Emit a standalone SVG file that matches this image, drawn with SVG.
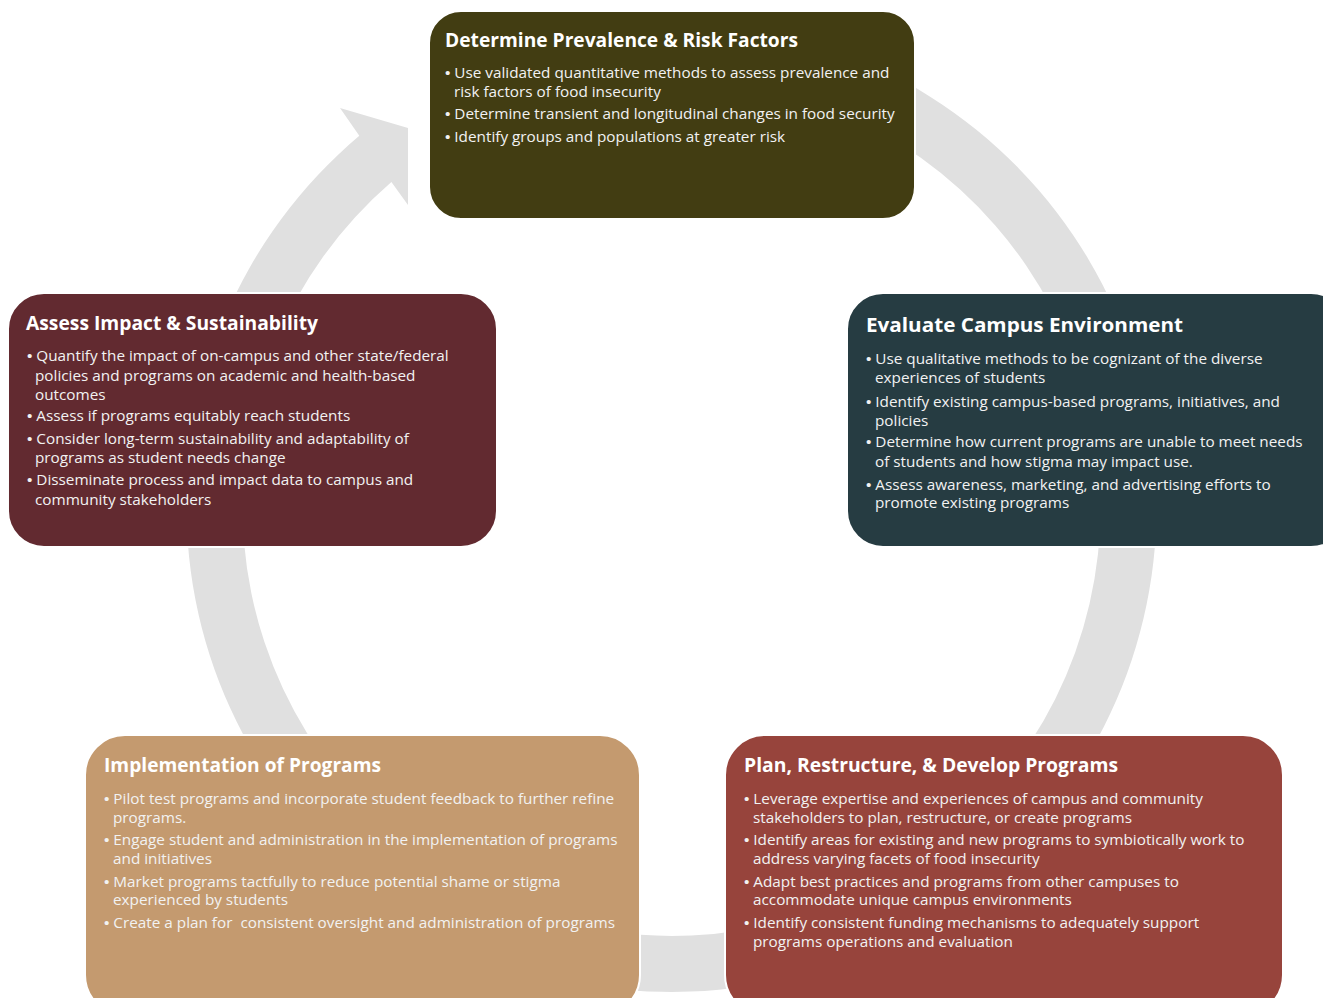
<svg xmlns="http://www.w3.org/2000/svg" width="1323" height="998" viewBox="0 0 1323 998">
<style>
.box{stroke:#ffffff;stroke-width:2}
.t{font-family:"Open Sans","Liberation Sans",Arial,sans-serif;font-weight:bold;font-size:19px;fill:#ffffff}
.b{font-family:"Open Sans","Liberation Sans",Arial,sans-serif;font-size:15.3px;fill:#f2f2f2}
.d{font-family:"Liberation Sans",Arial,sans-serif;font-size:15.3px}
</style>
<rect width="1323" height="998" fill="#ffffff"/>
<g id="connectors">
<path d="M359.3,135.8 A485,485 0 1 0 629.2,23.8 L634.1,79.6 A429,429 0 1 1 391.4,182.1 L408,205 L408,128 L340,108 Z" fill="#e0e0e0"/>
</g>
<g id="node-prevalence">
<rect class="box" x="429" y="11" width="486" height="208" rx="32" fill="#423d12"/>
<text class="t" x="445" y="47" textLength="353" lengthAdjust="spacingAndGlyphs">Determine Prevalence &amp; Risk Factors</text>
<text class="b" x="445" y="78"><tspan class="d">•</tspan> Use validated quantitative methods to assess prevalence and</text>
<text class="b" x="454" y="97">risk factors of food insecurity</text>
<text class="b" x="445" y="119"><tspan class="d">•</tspan> Determine transient and longitudinal changes in food security</text>
<text class="b" x="445" y="142"><tspan class="d">•</tspan> Identify groups and populations at greater risk</text>
</g>
<g id="node-evaluate">
<rect class="box" x="847" y="293" width="500" height="254" rx="36" fill="#263c42"/>
<text class="t" x="866" y="332" textLength="317" lengthAdjust="spacingAndGlyphs">Evaluate Campus Environment</text>
<text class="b" x="866" y="364"><tspan class="d">•</tspan> Use qualitative methods to be cognizant of the diverse</text>
<text class="b" x="875" y="383">experiences of students</text>
<text class="b" x="866" y="407"><tspan class="d">•</tspan> Identify existing campus-based programs, initiatives, and</text>
<text class="b" x="875" y="426">policies</text>
<text class="b" x="866" y="447"><tspan class="d">•</tspan> Determine how current programs are unable to meet needs</text>
<text class="b" x="875" y="467">of students and how stigma may impact use.</text>
<text class="b" x="866" y="490"><tspan class="d">•</tspan> Assess awareness, marketing, and advertising efforts to</text>
<text class="b" x="875" y="508">promote existing programs</text>
</g>
<g id="node-plan">
<rect class="box" x="725" y="735" width="558" height="280" rx="40" fill="#97443c"/>
<text class="t" x="744" y="772" textLength="374" lengthAdjust="spacingAndGlyphs">Plan, Restructure, &amp; Develop Programs</text>
<text class="b" x="744" y="804"><tspan class="d">•</tspan> Leverage expertise and experiences of campus and community</text>
<text class="b" x="753" y="823">stakeholders to plan, restructure, or create programs</text>
<text class="b" x="744" y="845"><tspan class="d">•</tspan> Identify areas for existing and new programs to symbiotically work to</text>
<text class="b" x="753" y="864">address varying facets of food insecurity</text>
<text class="b" x="744" y="887"><tspan class="d">•</tspan> Adapt best practices and programs from other campuses to</text>
<text class="b" x="753" y="905">accommodate unique campus environments</text>
<text class="b" x="744" y="928"><tspan class="d">•</tspan> Identify consistent funding mechanisms to adequately support</text>
<text class="b" x="753" y="947">programs operations and evaluation</text>
</g>
<g id="node-implementation">
<rect class="box" x="85" y="735" width="555" height="280" rx="40" fill="#c49a6f"/>
<text class="t" x="104" y="772" textLength="277" lengthAdjust="spacingAndGlyphs">Implementation of Programs</text>
<text class="b" x="104" y="804"><tspan class="d">•</tspan> Pilot test programs and incorporate student feedback to further refine</text>
<text class="b" x="113" y="823">programs.</text>
<text class="b" x="104" y="845"><tspan class="d">•</tspan> Engage student and administration in the implementation of programs</text>
<text class="b" x="113" y="864">and initiatives</text>
<text class="b" x="104" y="887"><tspan class="d">•</tspan> Market programs tactfully to reduce potential shame or stigma</text>
<text class="b" x="113" y="905">experienced by students</text>
<text class="b" x="104" y="928" xml:space="preserve"><tspan class="d">•</tspan> Create a plan for  consistent oversight and administration of programs</text>
</g>
<g id="node-assess">
<rect class="box" x="8" y="293" width="489" height="254" rx="36" fill="#622a30"/>
<text class="t" x="26" y="330" textLength="292" lengthAdjust="spacingAndGlyphs">Assess Impact &amp; Sustainability</text>
<text class="b" x="27" y="361"><tspan class="d">•</tspan> Quantify the impact of on-campus and other state/federal</text>
<text class="b" x="35" y="381">policies and programs on academic and health-based</text>
<text class="b" x="35" y="400">outcomes</text>
<text class="b" x="27" y="421"><tspan class="d">•</tspan> Assess if programs equitably reach students</text>
<text class="b" x="27" y="444"><tspan class="d">•</tspan> Consider long-term sustainability and adaptability of</text>
<text class="b" x="35" y="463">programs as student needs change</text>
<text class="b" x="27" y="485"><tspan class="d">•</tspan> Disseminate process and impact data to campus and</text>
<text class="b" x="35" y="505">community stakeholders</text>
</g>
</svg>
